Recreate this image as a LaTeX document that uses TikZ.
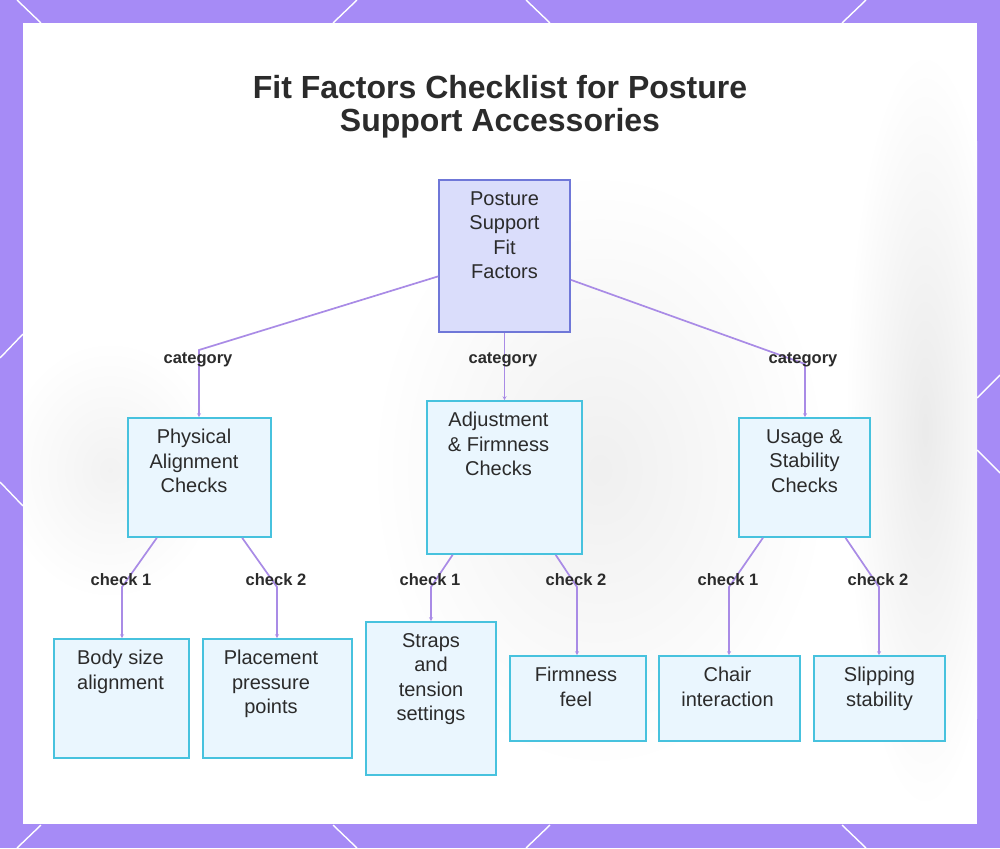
\documentclass[tikz,border=0pt]{standalone}
\usepackage{fontspec}
\setmainfont{Liberation Sans}
\usetikzlibrary{positioning,arrows.meta}
\definecolor{frame}{HTML}{A68BF6}
\definecolor{edgec}{HTML}{A98BE6}
\definecolor{rootfill}{HTML}{DADDFB}
\definecolor{rootline}{HTML}{6F77D8}
\definecolor{boxfill}{HTML}{EAF6FE}
\definecolor{boxline}{HTML}{47C2DE}
\definecolor{ink}{HTML}{2B2B2B}

\begin{document}
\begin{tikzpicture}[x=1pt,y=-1pt,
  rootbox/.style={draw=rootline,fill=rootfill,line width=1.6pt,inner sep=0pt},
  catbox/.style={draw=boxline,fill=boxfill,line width=1.6pt,inner sep=0pt},
  boxtext/.style={font=\fontsize{20}{24.5}\selectfont,text=ink,align=center,inner sep=0pt},
  tag/.style={font=\bfseries\fontsize{16.5}{18}\selectfont,text=ink,inner sep=0pt},
  link/.style={draw=edgec,line width=1.7pt,-{Stealth[length=4pt,width=4pt]}},
  corner/.style={draw=white,line width=1.4pt}]
  \useasboundingbox (0,0) rectangle (1000,848);
  % frame and panel
  \fill[frame] (0,0) rectangle (1000,848);
  \foreach \a/\b in {17/41,357/333,526/550,866/842}{
     \draw[corner] (\a,0) -- (\b,23);
     \draw[corner] (\a,848) -- (\b,825);
  }
  \draw[corner] (0,358) -- (23,334);
  \draw[corner] (0,482) -- (23,506);
  \draw[corner] (1000,375) -- (977,398);
  \draw[corner] (1000,473) -- (977,450);
  \fill[white] (23,23) rectangle (977,824);
  \begin{scope}
    \clip (23,23) rectangle (977,824);
    \shade[inner color=black!8,outer color=white] (925,430) ellipse (80 and 380);
    \shade[inner color=black!6,outer color=white] (600,470) ellipse (230 and 300);
    \shade[inner color=black!5,outer color=white] (110,470) ellipse (110 and 130);
  \end{scope}
  \draw[white,densely dotted,line width=0.8pt] (925,773) circle (43);

  % title
  \node[font=\bfseries\fontsize{32}{33}\selectfont,text=ink,align=center,inner sep=0pt,anchor=north]
     (title) at (500,75) {Fit Factors Checklist for Posture\\Support Accessories};

  % boxes
  \node[rootbox,minimum width=131,minimum height=152] (root) at (504.5,256) {};
  \node[catbox,minimum width=143,minimum height=119] (phys) at (199.5,477.5) {};
  \node[catbox,minimum width=155,minimum height=153] (adj) at (504.5,477.5) {};
  \node[catbox,minimum width=131,minimum height=119] (usage) at (804.5,477.5) {};
  \node[catbox,minimum width=135,minimum height=119] (body) at (121.5,698.5) {};
  \node[catbox,minimum width=149,minimum height=119] (place) at (277.5,698.5) {};
  \node[catbox,minimum width=130,minimum height=153] (straps) at (431,698.5) {};
  \node[catbox,minimum width=136,minimum height=85] (firm) at (578,698.5) {};
  \node[catbox,minimum width=141,minimum height=85] (chair) at (729.5,698.5) {};
  \node[catbox,minimum width=131,minimum height=85] (slip) at (879.5,698.5) {};

  \foreach \n/\dx/\txt in {root/0/{Posture\\Support\\Fit\\Factors},
                       phys/-5.5/{Physical\\Alignment\\Checks},
                       adj/-6/{Adjustment\\\& Firmness\\Checks},
                       usage/0/{Usage \&\\Stability\\Checks},
                       body/-1/{Body size\\alignment},
                       place/-6.5/{Placement\\pressure\\points},
                       straps/0/{Straps\\and\\tension\\settings},
                       firm/-2/{Firmness\\feel},
                       chair/-2/{Chair\\interaction},
                       slip/0/{Slipping\\stability}}{
     \node[boxtext,below=12pt of \n.north,xshift=\dx] (\n-txt) {\txt};
  }

  % category links
  \coordinate (k1) at (199,350);
  \coordinate (k3) at (805,364);
  \draw[link] (root) -- (k1) -- (k1 |- phys.north);
  \draw[link] (root) -- (adj);
  \draw[link] (root) -- (k3) -- (k3 |- usage.north);
  \node[tag] (cat1) at (198,360) {category};
  \node[tag] (cat2) at (503,360) {category};
  \node[tag] (cat3) at (803,360) {category};

  % check links
  \foreach \up/\kid/\x/\lab in {phys/body/122/1,phys/place/277/2,adj/straps/431/1,
                                adj/firm/577/2,usage/chair/729/1,usage/slip/879/2}{
     \coordinate (k-\kid) at (\x,587);
     \draw[link] (\up) -- (k-\kid) -- (k-\kid |- \kid.north);
     \node[tag] (t-\kid) at (\x-1,580) {check \lab};
  }
\end{tikzpicture}
\end{document}
